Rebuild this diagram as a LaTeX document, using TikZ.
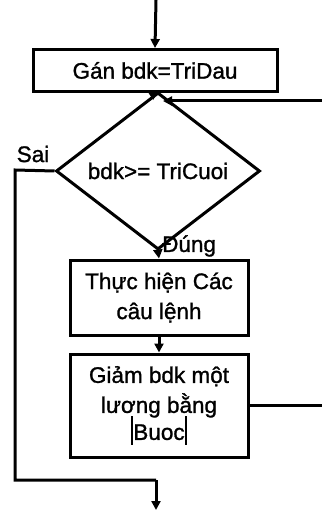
\documentclass[tikz,border=0pt]{standalone}
\usepackage{fontspec}
\setmainfont{Liberation Sans}[FakeBold=1.2]
\usetikzlibrary{shapes.geometric,arrows.meta}
\begin{document}
\begin{tikzpicture}[x=1pt,y=-1pt,
  every node/.style={font=\fontsize{22.5}{30}\selectfont},
  procbox/.style={draw, line width=3pt, rectangle, align=center, inner sep=0pt},
  decision/.style={draw, line width=3pt, diamond, inner sep=0pt},
  flow/.style={line width=3pt, -{Triangle[length=9pt,width=9pt]}},
  plain/.style={line width=3pt},
  lbl/.style={inner sep=0pt}]
\useasboundingbox (0,0) rectangle (321,510);

% entry and exit points
\coordinate (start) at (156,0);
\coordinate (loopin) at (323,101);
\coordinate (loopend) at (163,101);
\coordinate (rightedge) at (323,0);
\coordinate (leftbend) at (15,170);
\coordinate (exitbend) at (156,480);
\coordinate (exit) at (156,510);

% blocks
\node[procbox, minimum width=244pt, minimum height=42pt] (init) at (155,70.5) {Gán bdk=TriDau};
\node[decision, minimum width=204pt, minimum height=122pt] (test) at (158,171) {bdk>= TriCuoi};
\node[procbox, minimum width=178pt, minimum height=75pt] (body) at (159,297.5) {Thực hiện Các\\câu lệnh};
\node[procbox, minimum width=178pt, minimum height=103pt] (step) at (159,405.5)
  {Giảm bdk một\\lương bằng\\[-3pt]\raisebox{-5pt}{\rule{2.4pt}{29pt}}Buoc\raisebox{-5pt}{\rule{2.4pt}{29pt}}};

% labels
\node[lbl] (sai) at (33,154) {Sai};
\node[lbl, anchor=west] (dung) at (162,246) {Đúng};

% connectors
\draw[flow] (start) -- (init.north);
\draw[flow] (init.south) -- (test.north);
\draw[flow] (loopin) -- (loopend);
\draw[flow] (test.south) -- (body.north);
\draw[flow] (body.south) -- (step.north);
\draw[plain] (step.east) -- (step.east -| rightedge);
\draw[plain] (test.west) -- (leftbend) -- (leftbend |- exitbend) -- (exitbend);
\draw[flow] (exitbend) -- (exit);
\end{tikzpicture}
\end{document}
